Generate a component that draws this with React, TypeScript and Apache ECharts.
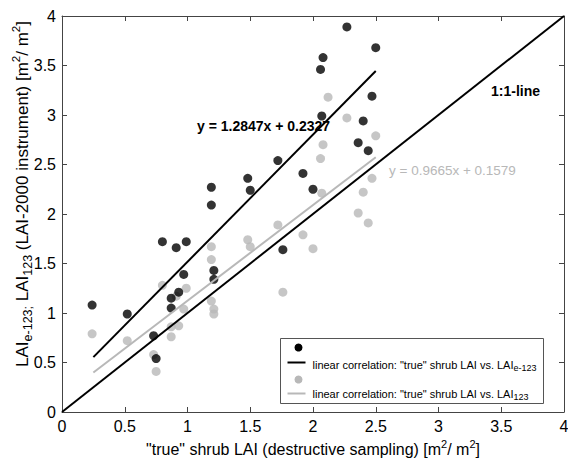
import React, { useEffect, useRef } from "react";
import * as echarts from "echarts";

const blackX = [0.24, 0.52, 0.73, 0.75, 0.80, 0.87, 0.87, 0.91, 0.93, 0.97, 0.99, 1.19, 1.19, 1.21, 1.21, 1.48, 1.50, 1.72, 1.76, 1.92, 2.00, 2.06, 2.07, 2.08, 2.27, 2.36, 2.40, 2.44, 2.47, 2.50];
const blackY = [1.08, 0.99, 0.77, 0.54, 1.72, 1.15, 1.05, 1.66, 1.21, 1.39, 1.72, 2.27, 2.09, 1.43, 1.34, 2.36, 2.24, 2.54, 1.64, 2.41, 2.25, 3.46, 2.99, 3.58, 3.89, 2.72, 2.94, 2.64, 3.19, 3.68];
const grayX = [0.24, 0.52, 0.73, 0.75, 0.80, 0.87, 0.87, 0.91, 0.93, 0.97, 0.99, 1.19, 1.19, 1.19, 1.21, 1.21, 1.48, 1.50, 1.72, 1.76, 1.92, 2.00, 2.06, 2.07, 2.08, 2.12, 2.27, 2.36, 2.40, 2.44, 2.47, 2.50];
const grayY = [0.79, 0.72, 0.58, 0.41, 1.28, 0.76, 0.86, 1.17, 0.87, 1.04, 1.25, 1.67, 1.54, 1.12, 1.04, 0.99, 1.74, 1.67, 1.89, 1.21, 1.79, 1.65, 2.56, 2.21, 2.70, 3.18, 2.97, 2.01, 2.22, 1.91, 2.36, 2.79];

// regression line end points (from the printed equations, x from 0.25 to 2.5)
const fitBlackX = [0.25, 2.5];
const fitBlackY = [0.554, 3.444];
const fitGrayX = [0.25, 2.5];
const fitGrayY = [0.399, 2.574];
const identityX = [0, 4];
const identityY = [0, 4];

const axisMin = 0;
const axisMax = 4;
const axisStep = 0.5;

const FONT = "Liberation Sans, Arial, sans-serif";
const GRAY = "#b8b8b8";

const zip = (xs: number[], ys: number[]) => xs.map((x, i) => [x, ys[i]]);

export default function App() {
  const ref = useRef<HTMLDivElement>(null);
  useEffect(() => {
    if (!ref.current) return;
    const chart = echarts.init(ref.current, null, { renderer: "svg" });
    const baseAxis = {
      type: "value" as const,
      min: axisMin,
      max: axisMax,
      interval: axisStep,
      splitLine: { show: false },
      axisLine: { show: true, onZero: false, lineStyle: { color: "#444", width: 1 } },
      axisTick: { show: true, inside: true, length: 5, lineStyle: { color: "#444" } },
    };
    const xRich = {
      n: { fontSize: 16, fontFamily: FONT, color: "#000", lineHeight: 22, verticalAlign: "middle" },
      p: { fontSize: 11, fontFamily: FONT, color: "#000", lineHeight: 14, verticalAlign: "top" },
    };
    const yRich = {
      n: { fontSize: 17, fontFamily: FONT, fill: "#000", lineHeight: 25, verticalAlign: "middle" },
      s: { fontSize: 12.5, fontFamily: FONT, fill: "#000", lineHeight: 11, verticalAlign: "bottom" },
      p: { fontSize: 11.5, fontFamily: FONT, fill: "#000", lineHeight: 15, verticalAlign: "top" },
    };
    const legendRich = {
      t: { fontSize: 11, fontFamily: FONT, fill: "#000", lineHeight: 16, verticalAlign: "middle" },
      s: { fontSize: 9, fontFamily: FONT, fill: "#000", lineHeight: 8, verticalAlign: "bottom" },
    };
    chart.setOption({
      animation: false,
      backgroundColor: "#fff",
      textStyle: { fontFamily: FONT },
      grid: { left: 62, top: 16, width: 502, height: 396, containLabel: false, outerBoundsMode: "none" },
      xAxis: [
        {
          ...baseAxis,
          position: "bottom",
          axisLabel: { fontSize: 16, color: "#000", margin: 6, fontFamily: FONT },
          name: "{n|\"true\" shrub LAI (destructive sampling) [m}{p|2}{n|/ m}{p|2}{n|]}",
          nameLocation: "middle",
          nameGap: 26,
          nameTextStyle: { rich: xRich },
        },
        { ...baseAxis, position: "top", axisLabel: { show: false } },
      ],
      yAxis: [
        {
          ...baseAxis,
          position: "left",
          axisLabel: { fontSize: 16, color: "#000", margin: 6, fontFamily: FONT },
        },
        { ...baseAxis, position: "right", axisLabel: { show: false } },
      ],
      series: [
        {
          type: "scatter",
          data: zip(grayX, grayY),
          symbol: "circle",
          symbolSize: 9,
          itemStyle: { color: GRAY },
          z: 2,
        },
        {
          type: "scatter",
          data: zip(blackX, blackY),
          symbol: "circle",
          symbolSize: 9,
          itemStyle: { color: "#000" },
          z: 3,
        },
        {
          type: "line",
          data: zip(identityX, identityY),
          showSymbol: false,
          lineStyle: { color: "#000", width: 2 },
          z: 4,
        },
        {
          type: "line",
          data: zip(fitBlackX, fitBlackY),
          showSymbol: false,
          lineStyle: { color: "#000", width: 2 },
          z: 4,
        },
        {
          type: "line",
          data: zip(fitGrayX, fitGrayY),
          showSymbol: false,
          lineStyle: { color: GRAY, width: 2 },
          z: 4,
        },
      ],
      graphic: [
        {
          type: "text",
          x: 22,
          y: 194,
          rotation: Math.PI / 2,
          style: {
            text: "{n|LAI}{s|e-123;}{n| LAI}{s|123}{n| (LAI-2000 instrument) [m}{p|2}{n|/ m}{p|2}{n|]}",
            align: "center",
            verticalAlign: "middle",
            rich: yRich,
          },
          z: 10,
        },
        {
          type: "text",
          left: 197,
          top: 119,
          style: { text: "y = 1.2847x + 0.2327", font: `bold 14px ${FONT}`, fill: "#000" },
          z: 10,
        },
        {
          type: "text",
          left: 491,
          top: 84,
          style: { text: "1:1-line", font: `bold 14px ${FONT}`, fill: "#000" },
          z: 10,
        },
        {
          type: "text",
          left: 389,
          top: 163,
          style: { text: "y = 0.9665x + 0.1579", font: `13.5px ${FONT}`, fill: GRAY },
          z: 10,
        },
        {
          type: "group",
          left: 280,
          top: 338,
          z: 10,
          children: [
            { type: "rect", shape: { x: 0, y: 0, width: 263, height: 65 }, style: { fill: "#fff", stroke: "#555", lineWidth: 1 } },
            { type: "circle", shape: { cx: 18, cy: 9, r: 4 }, style: { fill: "#000" } },
            { type: "line", shape: { x1: 7, y1: 24, x2: 25, y2: 24 }, style: { stroke: "#000", lineWidth: 2 } },
            {
              type: "text",
              x: 32,
              y: 26,
              style: {
                text: "{t|linear correlation: \"true\" shrub LAI vs. LAI}{s|e-123}",
                verticalAlign: "middle",
                rich: legendRich,
              },
            },
            { type: "circle", shape: { cx: 18, cy: 41, r: 4 }, style: { fill: GRAY } },
            { type: "line", shape: { x1: 7, y1: 55, x2: 25, y2: 55 }, style: { stroke: GRAY, lineWidth: 2 } },
            {
              type: "text",
              x: 32,
              y: 55,
              style: {
                text: "{t|linear correlation: \"true\" shrub LAI vs. LAI}{s|123}",
                verticalAlign: "middle",
                rich: legendRich,
              },
            },
          ],
        },
      ],
    });
    return () => chart.dispose();
  }, []);
  return (
    <div
      ref={ref}
      style={{ position: "fixed", left: 0, top: 0, width: 568, height: 461, background: "#fff" }}
    />
  );
}
